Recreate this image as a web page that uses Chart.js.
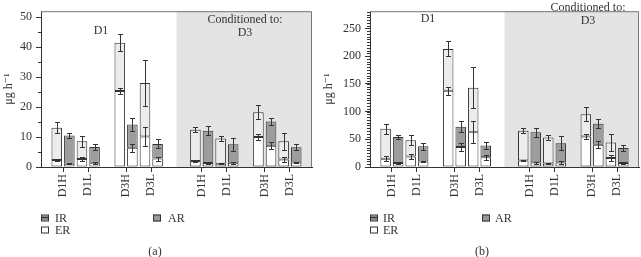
<!DOCTYPE html>
<html><head><meta charset="utf-8">
<script src="https://cdn.jsdelivr.net/npm/chart.js@4.4.1/dist/chart.umd.min.js"></script>
<style>
html,body{margin:0;padding:0;background:#fff}
body{width:641px;height:257px;position:relative;overflow:hidden;font-family:"Liberation Serif","DejaVu Serif",serif;color:#333}
.panel{position:absolute;top:0;height:257px}
#pa{left:0;width:320px}
#pb{left:320px;width:321px}
canvas{position:absolute;left:0;top:0}
.t{position:absolute;font-size:12px;line-height:13px;white-space:nowrap;transform:translate(-50%,-50%);text-align:center}
.lg{position:absolute;font-size:12px;line-height:13px;white-space:nowrap;transform:translateY(-50%)}
.ic{position:absolute;width:6px;height:5px;border:1px solid #333;box-sizing:content-box;transform:translateY(-50%)}
</style>
</head><body>
<div class="panel" id="pa"><canvas id="ca" width="320" height="257"></canvas></div>
<div class="panel" id="pb"><canvas id="cb" width="321" height="257"></canvas></div>

<!-- annotations, legend, captions -->
<div class="t" style="left:101px;top:30px">D1</div>
<div class="t" style="left:245px;top:26px">Conditioned to:<br>D3</div>
<div class="t" style="left:428px;top:18px">D1</div>
<div class="t" style="left:588px;top:14px">Conditioned to:<br>D3</div>

<div class="ic" style="left:41px;top:218px;background:linear-gradient(#888 0,#888 2px,#333 2px,#333 3px,#888 3px)"></div><div class="lg" style="left:55px;top:218px">IR</div>
<div class="ic" style="left:41px;top:230px;background:#fff"></div><div class="lg" style="left:55px;top:230px">ER</div>
<div class="ic" style="left:153px;top:218px;background:#999"></div><div class="lg" style="left:168px;top:218px">AR</div>
<div class="t" style="left:155px;top:251px">(a)</div>

<div class="ic" style="left:370px;top:218px;background:linear-gradient(#888 0,#888 2px,#333 2px,#333 3px,#888 3px)"></div><div class="lg" style="left:383px;top:218px">IR</div>
<div class="ic" style="left:370px;top:230px;background:#fff"></div><div class="lg" style="left:383px;top:230px">ER</div>
<div class="ic" style="left:482px;top:218px;background:#999"></div><div class="lg" style="left:495px;top:218px">AR</div>
<div class="t" style="left:482px;top:251px">(b)</div>

<script>
// ---------- data ----------
const categories = ['D1H','D1L','D3H','D3L','D1H','D1L','D3H','D3L'];
const conditionGroup = ['D1','D1','D3','D3','D1','D1','D3','D3'];
const section = [0,0,0,0,1,1,1,1]; // 0 = D1, 1 = conditioned to D3

// panel (a)
const aFirstTotal    = [13.1, 8.6, 41.5, 28.0, 12.4, 9.5, 18.3, 8.6];
const aFirstTotalErr = [1.9, 1.8, 2.8, 7.6, 0.85, 0.8, 2.4, 2.9];
const aFirstER       = [2.3, 2.7, 25.4, 10.2, 2.0, 1.1, 10.0, 2.5];
const aFirstERErr    = [0.4, 0.6, 0.9, 3.3, 0.2, 0.1, 0.9, 0.9];
const aAR            = [10.5, 6.7, 14.2, 7.7, 12.1, 7.6, 15.2, 6.6];
const aARErr         = [0.8, 1.0, 2.2, 1.5, 1.5, 2.1, 1.2, 1.0];
const aSecondER      = [1.1, 1.45, 6.4, 2.8, 1.35, 1.4, 7.1, 1.5];
const aSecondERErr   = [0.2, 0.3, 1.3, 0.7, 0.3, 0.4, 1.1, 0.3];

// panel (b)
const bFirstTotal    = [69, 48.4, 213, 143, 65.3, 53, 95, 44];
const bFirstTotalErr = [9, 9, 13.5, 37, 4.3, 4, 12.6, 16];
const bFirstER       = [15, 19, 137.3, 62.5, 11.8, 6.2, 55.2, 16.4];
const bFirstERErr    = [4.5, 4.8, 7, 20, 1.5, 1, 5, 5];
const bAR            = [54, 37.2, 72.6, 38.9, 62.5, 42.8, 78.2, 34.3];
const bARErr         = [4.2, 6.2, 10, 7, 8, 12.5, 7.5, 5.7];
const bSecondER      = [7.3, 10.1, 36, 17.4, 7.9, 7.9, 40, 7.3];
const bSecondERErr   = [1, 1.5, 6.4, 5, 2, 2.5, 6, 1];

// y tick settings
const aYMajor = [0,10,20,30,40,50];
const bYMajor = [0,50,100,150,200,250];

// ---------- slot layout (two bars per category, blank slots between groups) ----------
const slot = [];
{
  let s = 0;
  for (let i = 0; i < categories.length; i++) {
    if (i > 0) {
      s += 2;
      if (section[i] !== section[i-1]) s += 2;
      else if (conditionGroup[i] !== conditionGroup[i-1]) s += 1;
    }
    slot.push(s);
  }
}
const tickPos = slot.map(s => s + 0.5);
const lastFirstSection = section.lastIndexOf(0);
const shadeFrom = (slot[lastFirstSection] + 1 + slot[lastFirstSection + 1]) / 2;
const xMin = -1.25, xMax = slot[slot.length - 1] + 1 + 1.25;

const FONT = {family: "'Liberation Serif','DejaVu Serif',serif", size: 12};
const INK = '#333';

const panelPlugin = {
  id: 'panelDeco',
  beforeDatasetsDraw(chart) {
    const {ctx, chartArea: ca, scales: {x}} = chart;
    const xs = x.getPixelForValue(shadeFrom);
    ctx.save();
    ctx.fillStyle = '#e4e4e4';
    ctx.fillRect(xs, ca.top, ca.right - xs, ca.bottom - ca.top);
    ctx.restore();
  },
  afterDatasetsDraw(chart) {
    const {ctx, chartArea: ca, scales: {y}} = chart;
    ctx.save();
    ctx.strokeStyle = INK;
    ctx.lineWidth = 1;
    // error bars
    chart.data.datasets.forEach((ds, di) => {
      const meta = chart.getDatasetMeta(di);
      meta.data.forEach((bar, i) => {
        const c = ds.errCenter[i], e = ds.errSize[i];
        const y1 = Math.round(y.getPixelForValue(c + e)) + 0.5, y2 = Math.round(y.getPixelForValue(c - e)) + 0.5;
        const xx = Math.round(bar.x) + 0.5;
        ctx.beginPath();
        ctx.moveTo(xx, y1); ctx.lineTo(xx, y2);
        ctx.moveTo(xx - 2.5, y1); ctx.lineTo(xx + 2.5, y1);
        ctx.moveTo(xx - 2.5, y2); ctx.lineTo(xx + 2.5, y2);
        ctx.stroke();
      });
    });
    // frame top & right
    ctx.strokeStyle = '#777';
    ctx.beginPath();
    ctx.moveTo(ca.left, ca.top + 0.5); ctx.lineTo(ca.right - 0.5, ca.top + 0.5); ctx.lineTo(ca.right - 0.5, ca.bottom);
    ctx.stroke();
    // minor y ticks
    const minorStep = chart.options.minorStep;
    ctx.strokeStyle = INK;
    ctx.beginPath();
    for (let v = 0; v <= y.max + 1e-9; v += minorStep) {
      const py = Math.round(y.getPixelForValue(v)) + 0.5;
      ctx.moveTo(ca.left - 3, py); ctx.lineTo(ca.left, py);
    }
    ctx.stroke();
    ctx.restore();
  }
};

function makePanel(canvasId, firstTotal, firstTotalErr, firstER, firstERErr, ar, arErr, secondER, secondERErr, yMax, yMajor, minorStep, yAxisWidth, padRight) {
  const pts = (vals, off) => vals.map((v, i) => ({x: slot[i] + off, y: v}));
  const common = {borderColor: INK, borderWidth: 1, borderSkipped: false, categoryPercentage: 1, barPercentage: 0.84};
  new Chart(document.getElementById(canvasId), {
    type: 'bar',
    data: {
      datasets: [
        Object.assign({label: 'ER', data: pts(firstER, 0), backgroundColor: '#ffffff', errCenter: firstER, errSize: firstERErr}, common),
        Object.assign({label: 'IR', data: pts(firstTotal.map((t, i) => t - firstER[i]), 0), backgroundColor: '#ececec', errCenter: firstTotal, errSize: firstTotalErr}, common),
        Object.assign({label: 'ER', data: pts(secondER, 1), backgroundColor: '#ffffff', errCenter: secondER, errSize: secondERErr}, common),
        Object.assign({label: 'AR', data: pts(ar.map((t, i) => t - secondER[i]), 1), backgroundColor: '#9d9d9d', errCenter: ar, errSize: arErr}, common)
      ]
    },
    options: {
      responsive: false,
      animation: false,
      devicePixelRatio: 1,
      minorStep: minorStep,
      layout: {padding: {top: 1, right: padRight, left: 0, bottom: 0}},
      plugins: {legend: {display: false}, tooltip: {enabled: false}},
      scales: {
        x: {
          type: 'linear', stacked: true, offset: false, min: xMin, max: xMax,
          afterBuildTicks: s => { s.ticks = tickPos.map(v => ({value: v})); },
          afterFit: s => { s.height = 90; },
          grid: {display: true, drawOnChartArea: false, drawTicks: true, tickLength: 5, tickColor: INK, offset: false},
          border: {display: true, color: INK, width: 1},
          ticks: {autoSkip: false, minRotation: 90, maxRotation: 90, padding: 2, font: FONT, color: INK,
                  callback: (v, i) => categories[i]}
        },
        y: {
          type: 'linear', stacked: true, min: 0, max: yMax,
          afterBuildTicks: s => { s.ticks = yMajor.map(v => ({value: v})); },
          afterFit: s => { s.width = yAxisWidth; },
          grid: {display: true, drawOnChartArea: false, drawTicks: true, tickLength: 5, tickColor: INK},
          border: {display: true, color: INK, width: 1},
          ticks: {padding: 4, font: FONT, color: INK},
          title: {display: true, text: 'μg h⁻¹', font: FONT, color: INK, padding: {top: 2, bottom: 2}}
        }
      }
    },
    plugins: [panelPlugin]
  });
}

makePanel('ca', aFirstTotal, aFirstTotalErr, aFirstER, aFirstERErr, aAR, aARErr, aSecondER, aSecondERErr, 52, aYMajor, 5, 41, 8);
makePanel('cb', bFirstTotal, bFirstTotalErr, bFirstER, bFirstERErr, bAR, bARErr, bSecondER, bSecondERErr, 281, bYMajor, 5, 50, 2);
</script>
</body></html>
